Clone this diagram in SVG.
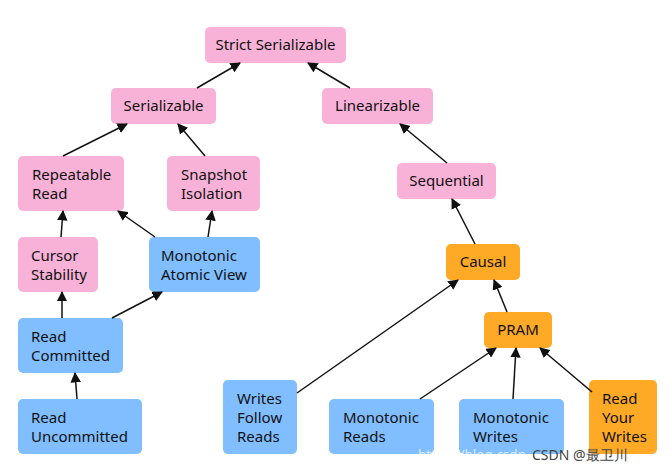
<svg xmlns="http://www.w3.org/2000/svg" width="672" height="474" viewBox="0 0 672 474">
<style>
rect{rx:5px;ry:5px}
.p{fill:#F9B2D7}.b{fill:#80BEFF}.o{fill:#FFAA26}
text{font-family:"Noto Sans","DejaVu Sans",sans-serif;font-size:15px;fill:#111}
.c line{stroke:#111;stroke-width:1.5;marker-end:url(#a)}
</style>
<defs><marker id="a" viewBox="0 0 10 10" refX="9" refY="5" markerWidth="7" markerHeight="7" orient="auto"><path d="M0,0L10,5L0,10z" fill="#111"/></marker></defs>
<rect width="672" height="474" fill="#fff"/>
<g id="n1"><rect class="p" x="205" y="27" width="141" height="36"/><text x="275.5" y="50" text-anchor="middle">Strict Serializable</text></g>
<g id="n2"><rect class="p" x="111" y="88" width="105" height="36"/><text x="163.5" y="111" text-anchor="middle">Serializable</text></g>
<g id="n3"><rect class="p" x="322" y="88" width="111" height="36"/><text x="377.5" y="111" text-anchor="middle">Linearizable</text></g>
<g id="n4"><rect class="p" x="18" y="156" width="106" height="55"/><text x="32" y="180">Repeatable</text><text x="32" y="199">Read</text></g>
<g id="n5"><rect class="p" x="167" y="156" width="93" height="55"/><text x="181" y="180">Snapshot</text><text x="181" y="199">Isolation</text></g>
<g id="n6"><rect class="p" x="397" y="163" width="99" height="36"/><text x="446.5" y="186" text-anchor="middle">Sequential</text></g>
<g id="n7"><rect class="p" x="18" y="237" width="80" height="55"/><text x="31" y="261">Cursor</text><text x="31" y="280">Stability</text></g>
<g id="n8"><rect class="b" x="149" y="237" width="111" height="55"/><text x="161" y="261">Monotonic</text><text x="161" y="280">Atomic View</text></g>
<g id="n9"><rect class="o" x="446" y="244" width="74" height="36"/><text x="483" y="267" text-anchor="middle">Causal</text></g>
<g id="n10"><rect class="o" x="484" y="312" width="68" height="36"/><text x="518" y="335" text-anchor="middle">PRAM</text></g>
<g id="n11"><rect class="b" x="18" y="318" width="105" height="55"/><text x="31" y="342">Read</text><text x="31" y="361">Committed</text></g>
<g id="n12"><rect class="b" x="18" y="399" width="124" height="55"/><text x="31" y="423">Read</text><text x="31" y="442">Uncommitted</text></g>
<g id="n13"><rect class="b" x="223" y="380" width="74" height="74"/><text x="237" y="404">Writes</text><text x="237" y="423">Follow</text><text x="237" y="442">Reads</text></g>
<g id="n14"><rect class="b" x="329" y="399" width="105" height="55"/><text x="343" y="423">Monotonic</text><text x="343" y="442">Reads</text></g>
<g id="n15"><rect class="b" x="459" y="399" width="105" height="55"/><text x="473" y="423">Monotonic</text><text x="473" y="442">Writes</text></g>
<g id="n16"><rect class="o" x="589" y="380" width="68" height="74"/><text x="602" y="404">Read</text><text x="602" y="423">Your</text><text x="602" y="442">Writes</text></g>
<g class="c" id="connectors">
<line x1="197" y1="88" x2="240" y2="63"/>
<line x1="350" y1="88" x2="308" y2="63"/>
<line x1="63" y1="156" x2="127" y2="124"/>
<line x1="205" y1="156" x2="178" y2="124"/>
<line x1="447" y1="163" x2="400" y2="124"/>
<line x1="475" y1="244" x2="452" y2="199"/>
<line x1="507" y1="312" x2="494" y2="280"/>
<line x1="61" y1="237" x2="63" y2="211"/>
<line x1="208" y1="237" x2="212" y2="211"/>
<line x1="155" y1="237" x2="118" y2="211"/>
<line x1="62" y1="318" x2="62" y2="292"/>
<line x1="112" y1="318" x2="162" y2="292"/>
<line x1="77" y1="399" x2="75" y2="373"/>
<line x1="297" y1="393" x2="458" y2="280"/>
<line x1="420" y1="399" x2="496" y2="348"/>
<line x1="513" y1="399" x2="516" y2="348"/>
<line x1="592" y1="392" x2="540" y2="348"/>
</g>
<text x="418" y="460" textLength="108" lengthAdjust="spacingAndGlyphs" style="font-size:14px;fill:#fff;opacity:.7">https://blog.csdn</text>
<text x="532" y="460" style="font-size:14px;fill:#444">CSDN @最卫川</text>
</svg>
